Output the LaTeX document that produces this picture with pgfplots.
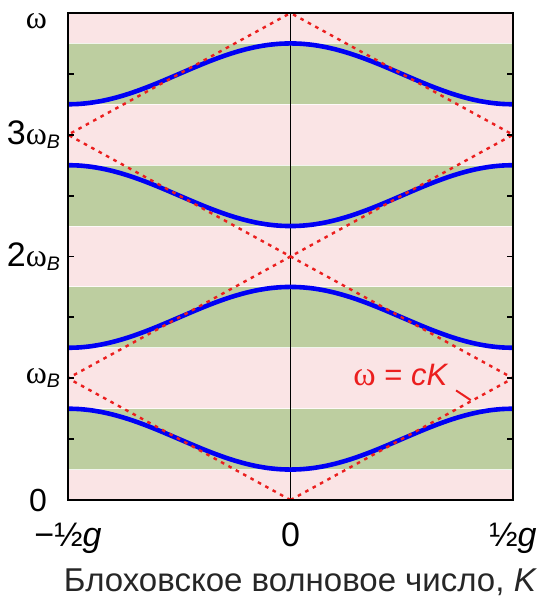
\documentclass[border=0pt]{standalone}
\usepackage{pgfplots}
\usepackage{pgfplotstable}
\pgfplotsset{compat=1.18}
\usepackage{fontspec}
\setmainfont{Liberation Sans}
\newfontfamily\omfont{Liberation Serif}
\definecolor{bandgreen}{RGB}{189,206,160}
\definecolor{gappink}{RGB}{250,228,229}
\definecolor{curveblue}{RGB}{0,0,245}
\definecolor{linered}{RGB}{235,30,30}
\newcommand{\om}{{\omfont\fontsize{16}{18}\selectfont ω}}
\newcommand{\sB}{\textsubscript{\textit{B}}}
\newcommand{\dg}[1]{{\fontsize{17}{19}\selectfont #1}}

\pgfplotstableread{
K b1 b2 b3 b4
-0.5 0.75 1.25 2.75 3.25
-0.475 0.7469 1.2531 2.7469 3.2531
-0.45 0.7378 1.2622 2.7378 3.2622
-0.425 0.7228 1.2772 2.7228 3.2772
-0.4 0.7023 1.2977 2.7023 3.2977
-0.375 0.6768 1.3232 2.6768 3.3232
-0.35 0.6469 1.3531 2.6469 3.3531
-0.325 0.6135 1.3865 2.6135 3.3865
-0.3 0.5773 1.4227 2.5773 3.4227
-0.275 0.5391 1.4609 2.5391 3.4609
-0.25 0.5 1.5 2.5 3.5
-0.225 0.4609 1.5391 2.4609 3.5391
-0.2 0.4227 1.5773 2.4227 3.5773
-0.175 0.3865 1.6135 2.3865 3.6135
-0.15 0.3531 1.6469 2.3531 3.6469
-0.125 0.3232 1.6768 2.3232 3.6768
-0.1 0.2977 1.7023 2.2977 3.7023
-0.075 0.2772 1.7228 2.2772 3.7228
-0.05 0.2622 1.7378 2.2622 3.7378
-0.025 0.2531 1.7469 2.2531 3.7469
0 0.25 1.75 2.25 3.75
0.025 0.2531 1.7469 2.2531 3.7469
0.05 0.2622 1.7378 2.2622 3.7378
0.075 0.2772 1.7228 2.2772 3.7228
0.1 0.2977 1.7023 2.2977 3.7023
0.125 0.3232 1.6768 2.3232 3.6768
0.15 0.3531 1.6469 2.3531 3.6469
0.175 0.3865 1.6135 2.3865 3.6135
0.2 0.4227 1.5773 2.4227 3.5773
0.225 0.4609 1.5391 2.4609 3.5391
0.25 0.5 1.5 2.5 3.5
0.275 0.5391 1.4609 2.5391 3.4609
0.3 0.5773 1.4227 2.5773 3.4227
0.325 0.6135 1.3865 2.6135 3.3865
0.35 0.6469 1.3531 2.6469 3.3531
0.375 0.6768 1.3232 2.6768 3.3232
0.4 0.7023 1.2977 2.7023 3.2977
0.425 0.7228 1.2772 2.7228 3.2772
0.45 0.7378 1.2622 2.7378 3.2622
0.475 0.7469 1.2531 2.7469 3.2531
0.5 0.75 1.25 2.75 3.25
}\bands

\begin{document}
\begin{tikzpicture}
\begin{axis}[
  name=ax,
  width=222.5pt, height=243.5pt, scale only axis,
  xmin=-0.5, xmax=0.5, ymin=0, ymax=4,
  axis background/.style={fill=gappink},
  axis line style={line width=0.9pt},
  axis on top,
  xtick={-0.5,0,0.5},
  xticklabels={−½\textit{g}, 0, ½\textit{g}},
  x tick style={draw=none},
  xticklabel style={font=\fontsize{17}{19}\selectfont, yshift=-8pt},
  ytick={0,1,2,3,4},
  yticklabels={{\fontsize{16}{18}\selectfont 0}\hphantom{\sB}, \om\sB, \dg{2}\om\sB, \dg{3}\om\sB, \raisebox{-8pt}[0pt][0pt]{\om}\hphantom{\sB}},
  minor ytick={0.5,1.5,2.5,3.5},
  yticklabel style={font=\fontsize{14}{16}\selectfont},
  ytick pos=both,
  yticklabel pos=left,
  tick align=inside,
  major tick length=3pt, minor tick length=3pt,
  tick style={black, line width=0.9pt},
  xlabel={Блоховское волновое число, \textit{K}},
  xlabel style={font=\fontsize{16.5}{18}\selectfont, text=black!85, yshift=-1pt, xshift=5pt},
]
% allowed bands
\addplot[fill=bandgreen, draw=none] coordinates {(-0.5,0.25) (0.5,0.25) (0.5,0.75) (-0.5,0.75)} -- cycle;
\addplot[fill=bandgreen, draw=none] coordinates {(-0.5,1.25) (0.5,1.25) (0.5,1.75) (-0.5,1.75)} -- cycle;
\addplot[fill=bandgreen, draw=none] coordinates {(-0.5,2.25) (0.5,2.25) (0.5,2.75) (-0.5,2.75)} -- cycle;
\addplot[fill=bandgreen, draw=none] coordinates {(-0.5,3.25) (0.5,3.25) (0.5,3.75) (-0.5,3.75)} -- cycle;
% thin light edges of the bands
\foreach \yy in {0.25,0.75,1.25,1.75,2.25,2.75,3.25,3.75}{
  \edef\tmp{\noexpand\addplot[white, line width=0.5pt, opacity=0.8] coordinates {(-0.5,\yy) (0.5,\yy)};}
  \tmp
}
% K = 0 line
\addplot[black, line width=0.9pt] coordinates {(0,0) (0,4)};
% band curves
\addplot[curveblue, line width=2.3pt, smooth] table[x=K, y=b1] {\bands};
\addplot[curveblue, line width=2.3pt, smooth] table[x=K, y=b2] {\bands};
\addplot[curveblue, line width=2.3pt, smooth] table[x=K, y=b3] {\bands};
\addplot[curveblue, line width=2.3pt, smooth] table[x=K, y=b4] {\bands};
% light line folded
\addplot[linered, line width=1.2pt, dash pattern=on 1.8pt off 2.4pt] coordinates {(0,0) (0.5,1) (0,2) (0.5,3) (0,4)};
\addplot[linered, line width=1.2pt, dash pattern=on 1.8pt off 2.4pt] coordinates {(0,0) (-0.5,1) (0,2) (-0.5,3) (0,4)};
% annotation pointer
\addplot[linered, line width=1pt] coordinates {(0.372,0.90) (0.405,0.82)};
\node[text=linered, font=\fontsize{15.5}{17}\selectfont] at (axis cs:0.248,1.03) {{\omfont\fontsize{17}{19}\selectfont ω} = \textit{cK}};
\end{axis}
\pgfresetboundingbox
\path[use as bounding box] ([xshift=-34pt,yshift=-49pt]ax.south west) rectangle ([xshift=16pt,yshift=6.5pt]ax.north east);
\end{tikzpicture}
\end{document}
